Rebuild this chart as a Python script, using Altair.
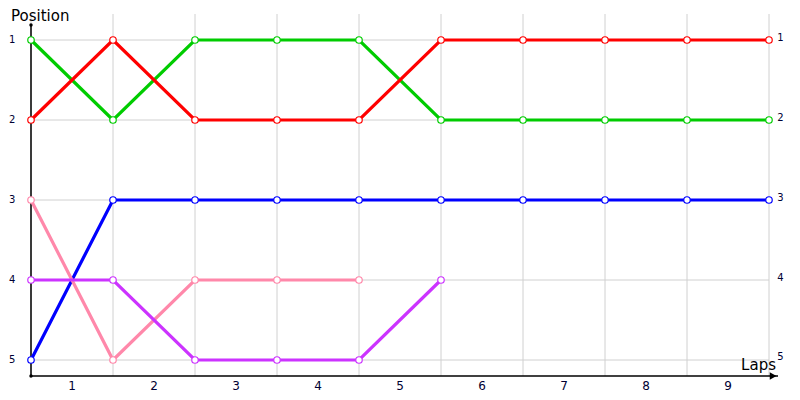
import altair as alt
import pandas as pd

laps_x = [0, 1, 2, 3, 4, 5, 6, 7, 8, 9]
green = [1, 2, 1, 1, 1, 2, 2, 2, 2, 2]
red = [2, 1, 2, 2, 2, 1, 1, 1, 1, 1]
blue = [5, 3, 3, 3, 3, 3, 3, 3, 3, 3]
pink = [3, 5, 4, 4, 4]
purple = [4, 4, 5, 5, 5, 4]
series_names = ["green", "red", "blue", "pink", "purple"]
series_colors = ["#00cc00", "#ff0000", "#0000ff", "#ff88aa", "#cc33ff"]
lap_labels = ["1", "2", "3", "4", "5", "6", "7", "8", "9"]
pos_labels = ["1", "2", "3", "4", "5"]

rows = []
for name, vals in zip(series_names, [green, red, blue, pink, purple]):
    for i, v in enumerate(vals):
        rows.append({"series": name, "lap": laps_x[i], "pos": v})
df = pd.DataFrame(rows)

XS = alt.Scale(domain=[0, 9], nice=False, zero=False)
YS = alt.Scale(domain=[0.675, 5.2], nice=False, zero=False, reverse=True)


def x_enc(f):
    return alt.X(f, type="quantitative", scale=XS, axis=None)


def y_enc(f):
    return alt.Y(f, type="quantitative", scale=YS, axis=None)


vgrid = pd.DataFrame({"x": laps_x, "y1": [0.675] * 10, "y2": [5.2] * 10})
hgrid = pd.DataFrame({"y": [1, 2, 3, 4, 5], "x1": [0] * 5, "x2": [9] * 5})

vg = alt.Chart(vgrid).mark_rule(color="#d0d0d0", strokeWidth=1).encode(
    x=x_enc("x"), y=y_enc("y1"), y2="y2")
hg = alt.Chart(hgrid).mark_rule(color="#d0d0d0", strokeWidth=1).encode(
    y=y_enc("y"), x=x_enc("x1"), x2="x2")

axes_df = pd.DataFrame({"x1": [0, 0], "x2": [0, 9.11], "y1": [0.8125, 5.2], "y2": [5.2, 5.2]})
ax = alt.Chart(axes_df).mark_rule(color="black", strokeWidth=1.5).encode(
    x=x_enc("x1"), x2="x2", y=y_enc("y1"), y2="y2")
dots = alt.Chart(pd.DataFrame({"x": [0, 0], "y": [0.8125, 5.2]})).mark_circle(
    color="black", size=12, opacity=1).encode(x=x_enc("x"), y=y_enc("y"))
arrow = alt.Chart(pd.DataFrame({"x": [9.05], "y": [5.2]})).mark_point(
    shape="triangle-right", filled=True, color="black", size=60, opacity=1).encode(
    x=x_enc("x"), y=y_enc("y"))

cscale = alt.Scale(domain=series_names, range=series_colors)
lines = alt.Chart(df).mark_line(strokeWidth=3.2).encode(
    x=x_enc("lap"), y=y_enc("pos"),
    color=alt.Color("series:N", scale=cscale, legend=None),
    detail="series:N")
points = alt.Chart(df).mark_point(filled=False, fill="white", fillOpacity=1, size=42,
                                  strokeWidth=1.2, opacity=1).encode(
    x=x_enc("lap"), y=y_enc("pos"),
    color=alt.Color("series:N", scale=cscale, legend=None))

left_lab = alt.Chart(pd.DataFrame({"t": pos_labels, "y": [1, 2, 3, 4, 5], "x": [-0.23] * 5})).mark_text(
    fontSize=10, font="DejaVu Sans", color="#000033", align="center", baseline="middle").encode(
    x=x_enc("x"), y=y_enc("y"), text="t:N")
right_lab = alt.Chart(pd.DataFrame({"t": pos_labels, "y": [0.98, 1.98, 2.98, 3.98, 4.96], "x": [9.1] * 5})).mark_text(
    fontSize=10, font="DejaVu Sans", color="#000033", align="left", baseline="middle").encode(
    x=x_enc("x"), y=y_enc("y"), text="t:N")
bottom_lab = alt.Chart(pd.DataFrame({"t": lap_labels, "x": [i + 0.5 for i in range(9)], "y": [5.32] * 9})).mark_text(
    fontSize=12, font="DejaVu Sans", color="#000033", align="center", baseline="middle").encode(
    x=x_enc("x"), y=y_enc("y"), text="t:N")

title_pos = alt.Chart(pd.DataFrame({"t": ["Position"], "x": [-0.244], "y": [0.7625]})).mark_text(
    fontSize=15, font="DejaVu Sans", color="black", baseline="alphabetic", align="left").encode(
    x=x_enc("x"), y=y_enc("y"), text="t:N")
title_laps = alt.Chart(pd.DataFrame({"t": ["Laps"], "x": [8.66], "y": [5.06]})).mark_text(
    fontSize=15, font="DejaVu Sans", color="black", baseline="middle", align="left").encode(
    x=x_enc("x"), y=y_enc("y"), text="t:N")

chart = alt.layer(vg, hg, ax, dots, arrow, lines, points, left_lab, right_lab, bottom_lab,
                  title_pos, title_laps).properties(
    width=738, height=362,
    autosize=alt.AutoSizeParams(type="none"),
    padding={"left": 23, "top": 6, "right": 23, "bottom": 16},
    background="white",
).configure_view(stroke=None)

chart.save("out.html", embed_options={"renderer": "svg", "actions": False})
